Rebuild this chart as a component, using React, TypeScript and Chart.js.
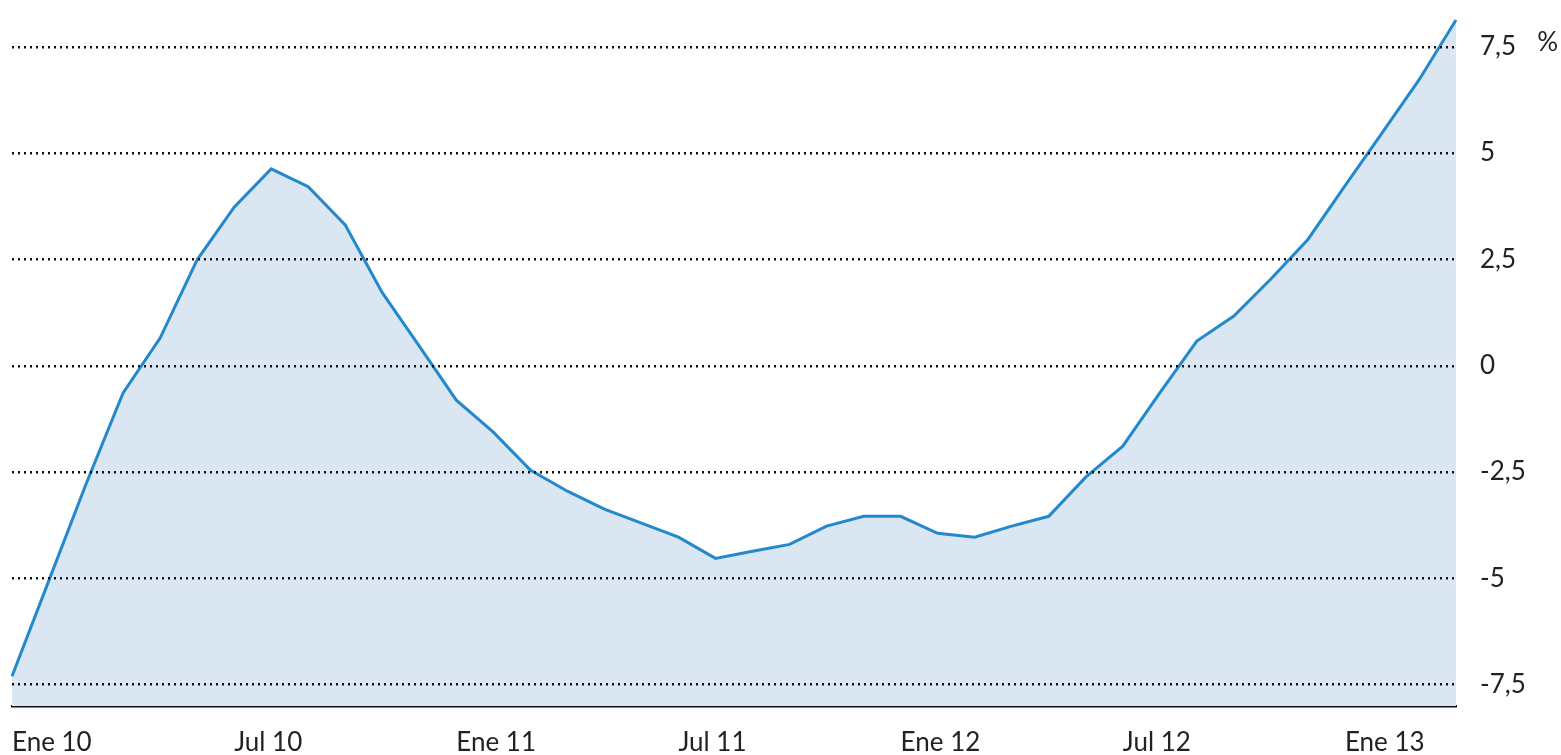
import React, { useEffect, useRef } from "react";
import { Chart, registerables } from "chart.js";

Chart.register(...registerables);

const categories = [
  "Ene 10", "Feb 10", "Mar 10", "Abr 10", "May 10", "Jun 10", "Jul 10", "Ago 10", "Sep 10", "Oct 10", "Nov 10", "Dic 10",
  "Ene 11", "Feb 11", "Mar 11", "Abr 11", "May 11", "Jun 11", "Jul 11", "Ago 11", "Sep 11", "Oct 11", "Nov 11", "Dic 11",
  "Ene 12", "Feb 12", "Mar 12", "Abr 12", "May 12", "Jun 12", "Jul 12", "Ago 12", "Sep 12", "Oct 12", "Nov 12", "Dic 12",
  "Ene 13", "Feb 13", "Mar 13", "Abr 13",
];

const values = [
  -7.3, -5.04, -2.78, -0.64, 0.65, 2.49, 3.73, 4.63, 4.21, 3.31,
  1.72, 0.46, -0.81, -1.56, -2.45, -2.95, -3.37, -3.7, -4.03, -4.53,
  -4.36, -4.2, -3.77, -3.54, -3.54, -3.94, -4.03, -3.77, -3.54, -2.62,
  -1.89, -0.64, 0.58, 1.17, 2.04, 2.97, 4.23, 5.47, 6.72, 8.13,
];

const xTickLabels = ["Ene 10", "Jul 10", "Ene 11", "Jul 11", "Ene 12", "Jul 12", "Ene 13"];
const yTickValues = [-7.5, -5, -2.5, 0, 2.5, 5, 7.5];
const unitLabel = "%";

const FONT = "Lato, 'Open Sans', sans-serif";

export default function App() {
  const ref = useRef<HTMLCanvasElement | null>(null);

  useEffect(() => {
    if (!ref.current) return;
    const unitPlugin = {
      id: "unitPlugin",
      afterDraw(chart: any) {
        const { ctx } = chart;
        const y = chart.scales.y.getPixelForValue(yTickValues[yTickValues.length - 1]);
        ctx.save();
        ctx.font = `26px ${FONT}`;
        ctx.fillStyle = "#222";
        ctx.textAlign = "right";
        ctx.textBaseline = "middle";
        ctx.fillText(unitLabel, chart.width - 3, y - 4);
        ctx.restore();
      },
    };
    const chart = new Chart(ref.current, {
      type: "line",
      data: {
        labels: categories,
        datasets: [
          {
            data: values,
            borderColor: "#2388cc",
            borderWidth: 3,
            backgroundColor: "#dae7f2",
            fill: "start",
            pointRadius: 0,
            tension: 0,
          },
        ],
      },
      options: {
        animation: false,
        responsive: true,
        maintainAspectRatio: false,
        layout: { padding: { left: 12, right: 0, top: 0, bottom: 0 } },
        plugins: { legend: { display: false }, tooltip: { enabled: false } },
        scales: {
          x: {
            type: "category",
            offset: false,
            grid: { display: false, drawTicks: false },
            border: { display: true, color: "#111", width: 2.5 },
            ticks: {
              autoSkip: false,
              maxRotation: 0,
              minRotation: 0,
              align: "start",
              padding: 21,
              color: "#222",
              font: { family: FONT, size: 26 },
              callback: (_v: any, i: number) =>
                xTickLabels.includes(categories[i]) ? categories[i] : "",
            },
            afterFit: (s: any) => {
              s.height = 49;
              s.paddingLeft = 0;
              s.paddingRight = 0;
            },
          },
          y: {
            position: "right",
            min: -8,
            max: 8.6,
            grid: {
              display: true,
              drawTicks: false,
              color: "#111",
              lineWidth: 2.5,
              z: 1,
            },
            border: { display: false, dash: [2, 4] },
            afterBuildTicks: (s: any) => {
              s.ticks = yTickValues.map((v) => ({ value: v }));
            },
            ticks: {
              padding: 24,
              color: "#222",
              font: { family: FONT, size: 26 },
              callback: (v: any) => String(v).replace(".", ","),
            },
            afterFit: (s: any) => {
              s.width = 105;
              s.paddingTop = 0;
              s.paddingBottom = 0;
            },
          },
        },
      },
      plugins: [unitPlugin],
    });
    return () => chart.destroy();
  }, []);

  return (
    <div style={{ position: "fixed", left: 0, top: 0, width: 1561, height: 755, background: "#fff" }}>
      <canvas ref={ref} />
    </div>
  );
}
